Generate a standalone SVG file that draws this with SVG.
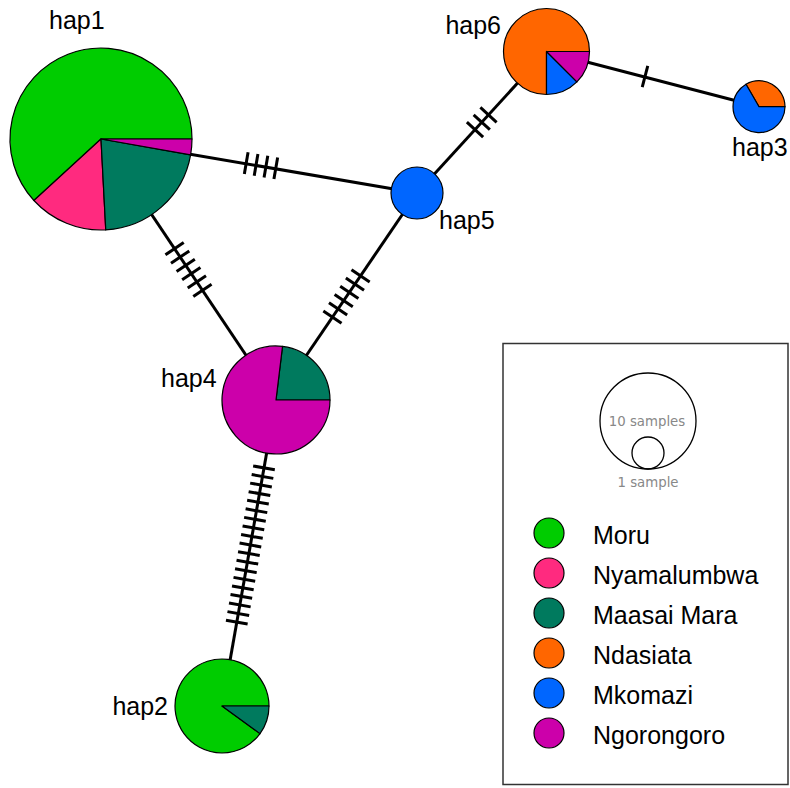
<svg xmlns="http://www.w3.org/2000/svg" width="790" height="788" viewBox="0 0 790 788">
<style>
.bg{fill:#ffffff}
.edge{stroke:#000;stroke-width:3;fill:none}
.hatch line{stroke:#000;stroke-width:3;stroke-linecap:butt}
.sl{stroke:#000;stroke-width:1.2;stroke-linejoin:round}
.moru{fill:#00cc00}
.nya{fill:#ff2a7f}
.mm{fill:#007a5e}
.nda{fill:#ff6600}
.mko{fill:#0066ff}
.ngo{fill:#cc00aa}
.lbl{font-family:"Liberation Sans",Arial,sans-serif;font-size:25px;fill:#000}
.small{font-family:"DejaVu Sans",sans-serif;font-size:13.3px;fill:#888;text-anchor:middle}
.scale{fill:none;stroke:#000;stroke-width:1.3}
</style>
<rect class="bg" x="0" y="0" width="790" height="788"/>
<g id="connectors">
<line class="edge" x1="101" y1="139" x2="417" y2="193"/>
<line class="edge" x1="101" y1="139" x2="276" y2="400"/>
<line class="edge" x1="417" y1="193" x2="276" y2="400"/>
<line class="edge" x1="417" y1="193" x2="546.5" y2="51.5"/>
<line class="edge" x1="546.5" y1="51.5" x2="759" y2="106.7"/>
<line class="edge" x1="276" y1="400" x2="222" y2="706"/>
<g class="hatch" transform="translate(261,165.7) rotate(9.7)">
<line x1="-15" y1="-11" x2="-15" y2="11"/><line x1="-5" y1="-11" x2="-5" y2="11"/><line x1="5" y1="-11" x2="5" y2="11"/><line x1="15" y1="-11" x2="15" y2="11"/>
</g>
<g class="hatch" transform="translate(188.5,269.5) rotate(56.16)">
<line x1="-25" y1="-11" x2="-25" y2="11"/><line x1="-15" y1="-11" x2="-15" y2="11"/><line x1="-5" y1="-11" x2="-5" y2="11"/><line x1="5" y1="-11" x2="5" y2="11"/><line x1="15" y1="-11" x2="15" y2="11"/><line x1="25" y1="-11" x2="25" y2="11"/>
</g>
<g class="hatch" transform="translate(346.5,296.5) rotate(124.26)">
<line x1="-25" y1="-11" x2="-25" y2="11"/><line x1="-15" y1="-11" x2="-15" y2="11"/><line x1="-5" y1="-11" x2="-5" y2="11"/><line x1="5" y1="-11" x2="5" y2="11"/><line x1="15" y1="-11" x2="15" y2="11"/><line x1="25" y1="-11" x2="25" y2="11"/>
</g>
<g class="hatch" transform="translate(481.75,122.25) rotate(-47.54)">
<line x1="-10" y1="-11" x2="-10" y2="11"/><line x1="0" y1="-11" x2="0" y2="11"/><line x1="10" y1="-11" x2="10" y2="11"/>
</g>
<g class="hatch" transform="translate(645,76.6) rotate(14.56)">
<line x1="0" y1="-11" x2="0" y2="11"/>
</g>
<g class="hatch" transform="translate(250.4,545) rotate(100)">
<line x1="-78.3" y1="-11" x2="-78.3" y2="11"/><line x1="-69.6" y1="-11" x2="-69.6" y2="11"/><line x1="-60.9" y1="-11" x2="-60.9" y2="11"/><line x1="-52.2" y1="-11" x2="-52.2" y2="11"/><line x1="-43.5" y1="-11" x2="-43.5" y2="11"/><line x1="-34.8" y1="-11" x2="-34.8" y2="11"/><line x1="-26.1" y1="-11" x2="-26.1" y2="11"/><line x1="-17.4" y1="-11" x2="-17.4" y2="11"/><line x1="-8.7" y1="-11" x2="-8.7" y2="11"/><line x1="0" y1="-11" x2="0" y2="11"/><line x1="8.7" y1="-11" x2="8.7" y2="11"/><line x1="17.4" y1="-11" x2="17.4" y2="11"/><line x1="26.1" y1="-11" x2="26.1" y2="11"/><line x1="34.8" y1="-11" x2="34.8" y2="11"/><line x1="43.5" y1="-11" x2="43.5" y2="11"/><line x1="52.2" y1="-11" x2="52.2" y2="11"/><line x1="60.9" y1="-11" x2="60.9" y2="11"/><line x1="69.6" y1="-11" x2="69.6" y2="11"/><line x1="78.3" y1="-11" x2="78.3" y2="11"/>
</g>
</g>
<g id="hap1">
<path class="sl moru" d="M101,139 L192,139 A91,91 0 1 0 33.91,200.48 Z"/>
<path class="sl nya" d="M101,139 L33.91,200.48 A91,91 0 0 0 105.76,229.88 Z"/>
<path class="sl mm" d="M101,139 L105.76,229.88 A91,91 0 0 0 190.62,154.8 Z"/>
<path class="sl ngo" d="M101,139 L190.62,154.8 A91,91 0 0 0 192,139 Z"/>
<text class="lbl" x="49" y="29">hap1</text>
</g>
<g id="hap6">
<path class="sl nda" d="M546.5,51.5 L589.5,51.5 A43,43 0 1 0 546.5,94.5 Z"/>
<path class="sl mko" d="M546.5,51.5 L546.5,94.5 A43,43 0 0 0 576.91,81.91 Z"/>
<path class="sl ngo" d="M546.5,51.5 L576.91,81.91 A43,43 0 0 0 589.5,51.5 Z"/>
<text class="lbl" x="501" y="34" text-anchor="end">hap6</text>
</g>
<g id="hap3">
<path class="sl nda" d="M759,106.7 L785,106.7 A26,26 0 0 0 746,84.18 Z"/>
<path class="sl mko" d="M759,106.7 L746,84.18 A26,26 0 1 0 785,106.7 Z"/>
<text class="lbl" x="732" y="156">hap3</text>
</g>
<g id="hap5">
<circle class="sl mko" cx="417" cy="193" r="26"/>
<text class="lbl" x="439" y="229">hap5</text>
</g>
<g id="hap4">
<path class="sl mm" d="M276,400 L330,400 A54,54 0 0 0 282.51,346.39 Z"/>
<path class="sl ngo" d="M276,400 L282.51,346.39 A54,54 0 1 0 330,400 Z"/>
<text class="lbl" x="161" y="387">hap4</text>
</g>
<g id="hap2">
<path class="sl moru" d="M222,706 L269,706 A47,47 0 1 0 260.02,733.63 Z"/>
<path class="sl mm" d="M222,706 L260.02,733.63 A47,47 0 0 0 269,706 Z"/>
<text class="lbl" x="168" y="715" text-anchor="end">hap2</text>
</g>
<g id="legend">
<rect x="503" y="343.5" width="285" height="441" fill="#fff" stroke="#333" stroke-width="1.5"/>
<circle class="scale" cx="648" cy="421" r="48"/>
<circle class="scale" cx="648" cy="453" r="16"/>
<text class="small" x="647" y="426">10 samples</text>
<text class="small" x="648" y="487">1 sample</text>
<circle class="sl moru" cx="549" cy="533" r="15"/>
<circle class="sl nya" cx="549" cy="573" r="15"/>
<circle class="sl mm" cx="549" cy="613" r="15"/>
<circle class="sl nda" cx="549" cy="653" r="15"/>
<circle class="sl mko" cx="549" cy="693" r="15"/>
<circle class="sl ngo" cx="549" cy="733" r="15"/>
<text class="lbl" x="593" y="544">Moru</text>
<text class="lbl" x="593" y="584">Nyamalumbwa</text>
<text class="lbl" x="593" y="624">Maasai Mara</text>
<text class="lbl" x="593" y="664">Ndasiata</text>
<text class="lbl" x="593" y="704">Mkomazi</text>
<text class="lbl" x="593" y="744">Ngorongoro</text>
</g>
</svg>
